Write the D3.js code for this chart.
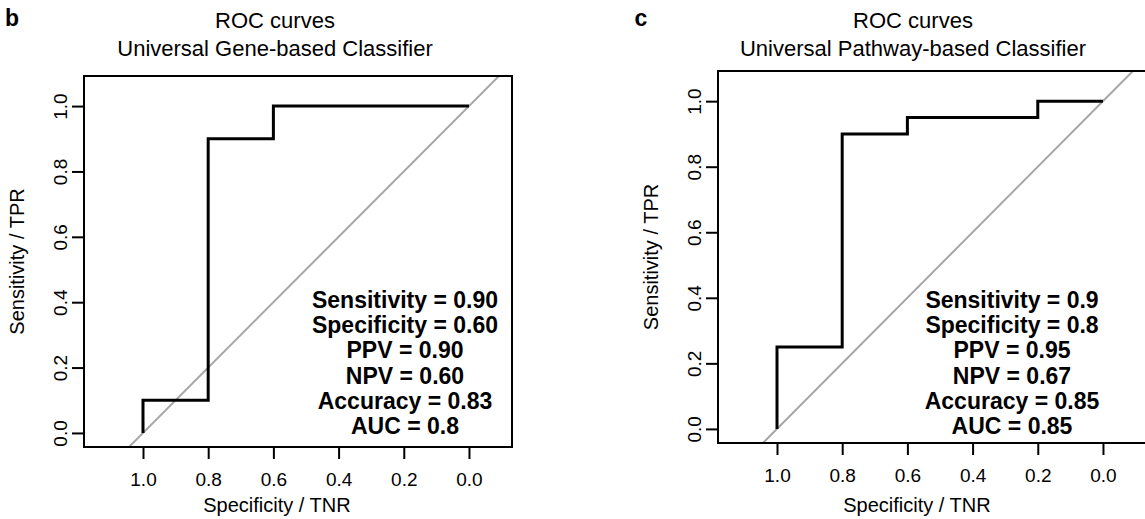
<!DOCTYPE html>
<html><head><meta charset="utf-8">
<script src="https://cdn.jsdelivr.net/npm/d3@7"></script>
<style>
body{margin:0;background:#fff;}
svg{display:block;font-family:"Liberation Sans",Arial,Helvetica,sans-serif;}
</style></head>
<body>
<svg id="chart" width="1145" height="519"></svg>
<script>
// ---- data ----
const panelLetters = ["b", "c"];
const titleLine1 = ["ROC curves", "ROC curves"];
const titleLine2 = ["Universal Gene-based Classifier", "Universal Pathway-based Classifier"];
const xLabel = "Specificity / TNR";
const yLabel = "Sensitivity / TPR";
const tickValues = [0, 0.2, 0.4, 0.6, 0.8, 1.0];

const specGene = [1, 1, 0.8, 0.8, 0.6, 0.6, 0];
const sensGene = [0, 0.1, 0.1, 0.9, 0.9, 1, 1];
const specPath = [1, 1, 0.8, 0.8, 0.6, 0.6, 0.2, 0.2, 0];
const sensPath = [0, 0.25, 0.25, 0.9, 0.9, 0.95, 0.95, 1, 1];

const statsGene = ["Sensitivity = 0.90", "Specificity = 0.60", "PPV = 0.90", "NPV = 0.60", "Accuracy = 0.83", "AUC = 0.8"];
const statsPath = ["Sensitivity = 0.9", "Specificity = 0.8", "PPV = 0.95", "NPV = 0.67", "Accuracy = 0.85", "AUC = 0.85"];

// ---- layout ----
const layouts = [
  {left: 84, top: 76, w: 428, h: 371, letterX: 12, titleX: 275, xlabX: 277, statsX: 405, statsY: 300},
  {left: 718, top: 71, w: 428, h: 372, letterX: 641, titleX: 913, xlabX: 917, statsX: 1012, statsY: 300}
];
const specs = [specGene, specPath];
const senss = [sensGene, sensPath];
const stats = [statsGene, statsPath];

const svg = d3.select("#chart");

layouts.forEach((L, i) => {
  const x = d3.scaleLinear().domain([1.181, -0.132]).range([L.left, L.left + L.w]);
  const y = d3.scaleLinear().domain([-0.043, 1.092]).range([L.top + L.h, L.top]);
  const g = svg.append("g");

  // panel letter
  g.append("text").attr("x", L.letterX).attr("y", 26).attr("text-anchor", "middle")
    .attr("font-weight", "bold").attr("font-size", 23).text(panelLetters[i]);

  // titles
  g.append("text").attr("x", L.titleX).attr("y", 28).attr("text-anchor", "middle")
    .attr("font-size", 22).text(titleLine1[i]);
  g.append("text").attr("x", L.titleX).attr("y", 56).attr("text-anchor", "middle")
    .attr("font-size", 22).text(titleLine2[i]);

  // clip
  const cid = "clip" + i;
  svg.append("clipPath").attr("id", cid).append("rect")
    .attr("x", L.left).attr("y", L.top).attr("width", L.w).attr("height", L.h);

  // diagonal
  const diag = [-0.2, 1.3];
  g.append("line").attr("clip-path", `url(#${cid})`)
    .attr("x1", x(diag[0])).attr("y1", y(1 - diag[0]))
    .attr("x2", x(diag[1])).attr("y2", y(1 - diag[1]))
    .attr("stroke", "#a6a6a6").attr("stroke-width", 2);

  // ROC curve
  const pts = specs[i].map((s, k) => [s, senss[i][k]]);
  g.append("path").datum(pts)
    .attr("d", d3.line().x(d => x(d[0])).y(d => y(d[1])))
    .attr("fill", "none").attr("stroke", "#000").attr("stroke-width", 3)
    .attr("stroke-linejoin", "miter");

  // box
  g.append("rect").attr("x", L.left).attr("y", L.top).attr("width", L.w).attr("height", L.h)
    .attr("fill", "none").attr("stroke", "#000").attr("stroke-width", 2);

  // x axis
  const xa = g.append("g").attr("transform", `translate(0,${L.top + L.h})`)
    .call(d3.axisBottom(x).tickValues(tickValues).tickFormat(d3.format(".1f")).tickSize(12).tickPadding(14));
  xa.select(".domain").remove();
  xa.selectAll("line").attr("stroke", "#000").attr("stroke-width", 2);
  xa.selectAll("text").attr("font-size", 19).attr("font-family", "Liberation Sans, Arial, sans-serif").attr("fill", "#000");

  // y axis
  const ya = g.append("g").attr("transform", `translate(${L.left},0)`)
    .call(d3.axisLeft(y).tickValues(tickValues).tickFormat(d3.format(".1f")).tickSize(12).tickPadding(0));
  ya.select(".domain").remove();
  ya.selectAll("line").attr("stroke", "#000").attr("stroke-width", 2);
  ya.selectAll("text").attr("font-size", 19).attr("font-family", "Liberation Sans, Arial, sans-serif").attr("fill", "#000")
    .attr("text-anchor", "middle").attr("dy", null)
    .attr("transform", d => `translate(-24,0) rotate(-90)`).attr("x", 0).attr("y", 0)
    .attr("dominant-baseline", "central");

  // axis titles
  g.append("text").attr("x", L.xlabX).attr("y", 512).attr("text-anchor", "middle")
    .attr("font-size", 20).text(xLabel);
  g.append("text").attr("transform", `translate(${L.left - 60},${L.top + L.h / 2}) rotate(-90)`)
    .attr("text-anchor", "middle").attr("font-size", 20).text(yLabel);

  // stats text
  g.append("g").selectAll("text").data(stats[i]).join("text")
    .attr("x", L.statsX).attr("y", (d, k) => L.statsY + k * 25.2)
    .attr("text-anchor", "middle").attr("dominant-baseline", "central")
    .attr("font-weight", "bold").attr("font-size", 23).text(d => d);
});
</script>
</body></html>
